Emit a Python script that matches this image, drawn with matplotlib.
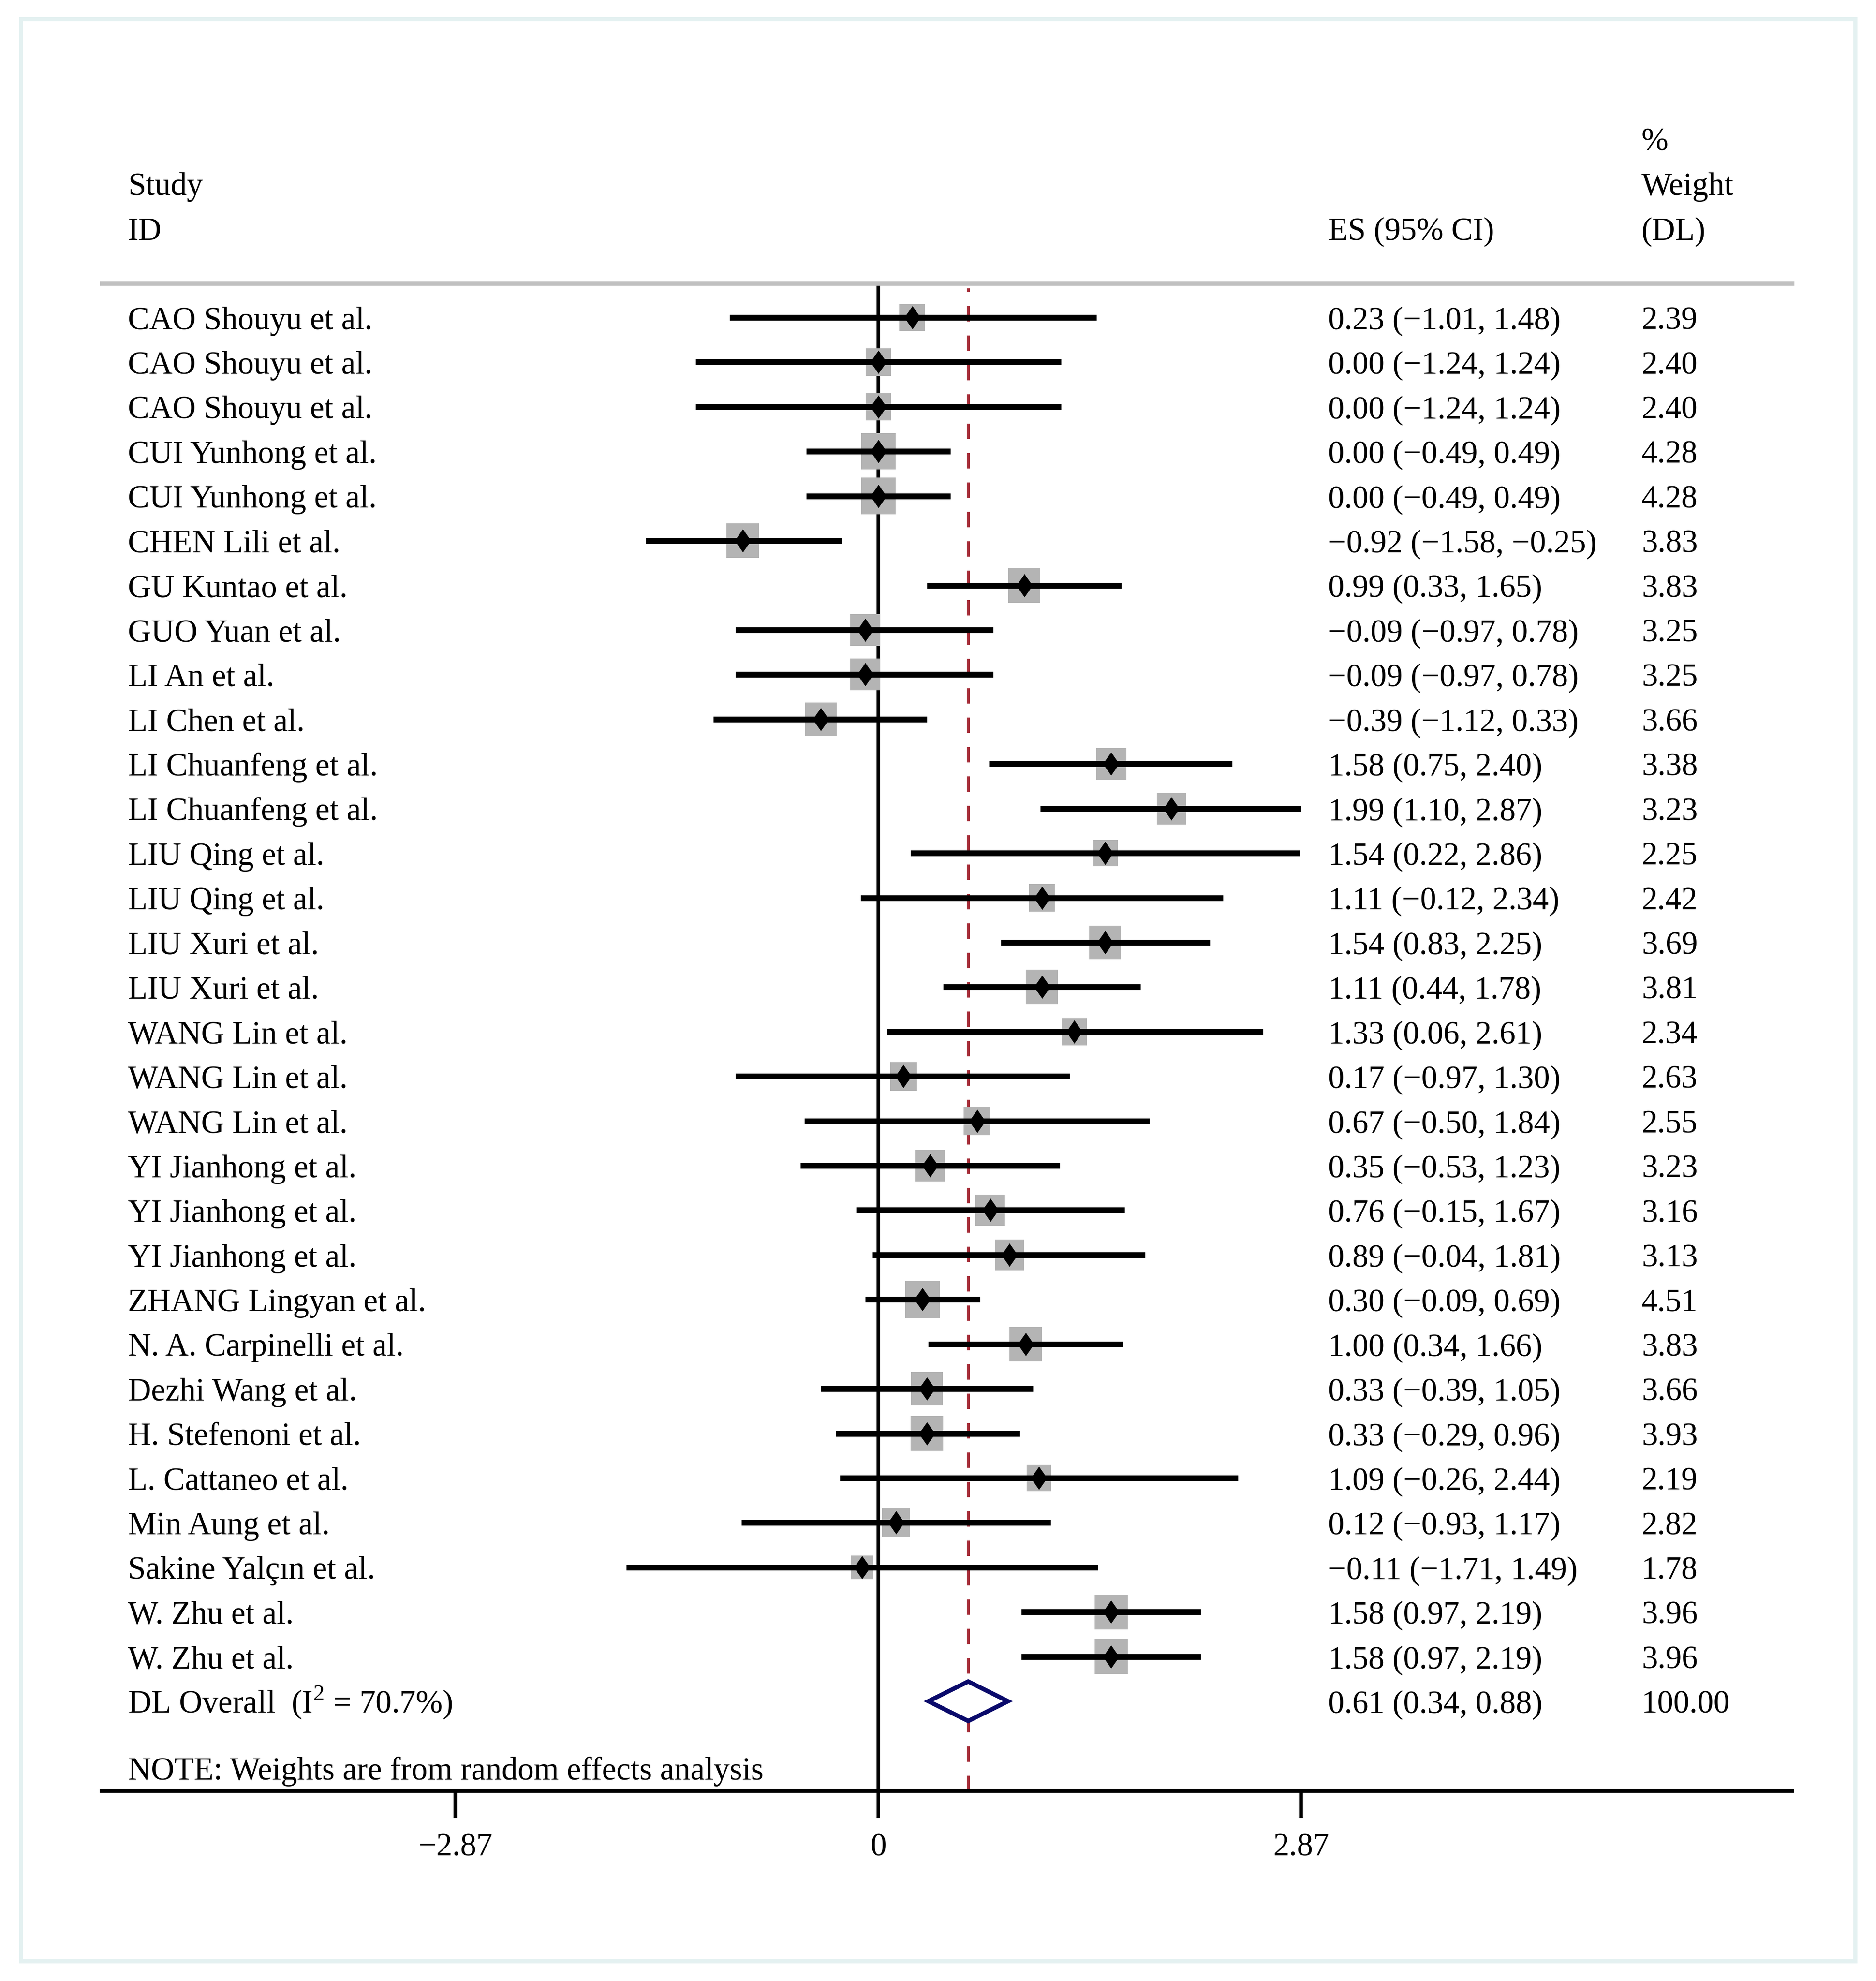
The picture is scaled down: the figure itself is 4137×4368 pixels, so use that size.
import matplotlib
matplotlib.use('Agg')
import matplotlib.pyplot as plt
import numpy as np
from matplotlib.patches import Rectangle

plt.rcParams['font.family'] = ['Liberation Serif', 'DejaVu Serif']
plt.rcParams['font.size'] = 17
plt.rcParams['mathtext.fontset'] = 'custom'
plt.rcParams['mathtext.rm'] = 'Liberation Serif'

studies = ['CAO Shouyu et al.', 'CAO Shouyu et al.', 'CAO Shouyu et al.',
           'CUI Yunhong et al.', 'CUI Yunhong et al.', 'CHEN Lili et al.',
           'GU Kuntao et al.', 'GUO Yuan et al.', 'LI An et al.', 'LI Chen et al.',
           'LI Chuanfeng et al.', 'LI Chuanfeng et al.', 'LIU Qing et al.',
           'LIU Qing et al.', 'LIU Xuri et al.', 'LIU Xuri et al.',
           'WANG Lin et al.', 'WANG Lin et al.', 'WANG Lin et al.',
           'YI Jianhong et al.', 'YI Jianhong et al.', 'YI Jianhong et al.',
           'ZHANG Lingyan et al.', 'N. A. Carpinelli et al.', 'Dezhi Wang et al.',
           'H. Stefenoni et al.', 'L. Cattaneo et al.', 'Min Aung et al.',
           'Sakine Yalçın et al.', 'W. Zhu et al.', 'W. Zhu et al.']
es = np.array([0.23, 0.00, 0.00, 0.00, 0.00, -0.92, 0.99, -0.09, -0.09, -0.39,
               1.58, 1.99, 1.54, 1.11, 1.54, 1.11, 1.33, 0.17, 0.67, 0.35,
               0.76, 0.89, 0.30, 1.00, 0.33, 0.33, 1.09, 0.12, -0.11, 1.58, 1.58])
lo = np.array([-1.01, -1.24, -1.24, -0.49, -0.49, -1.58, 0.33, -0.97, -0.97, -1.12,
               0.75, 1.10, 0.22, -0.12, 0.83, 0.44, 0.06, -0.97, -0.50, -0.53,
               -0.15, -0.04, -0.09, 0.34, -0.39, -0.29, -0.26, -0.93, -1.71, 0.97, 0.97])
hi = np.array([1.48, 1.24, 1.24, 0.49, 0.49, -0.25, 1.65, 0.78, 0.78, 0.33,
               2.40, 2.87, 2.86, 2.34, 2.25, 1.78, 2.61, 1.30, 1.84, 1.23,
               1.67, 1.81, 0.69, 1.66, 1.05, 0.96, 2.44, 1.17, 1.49, 2.19, 2.19])
weight = np.array([2.39, 2.40, 2.40, 4.28, 4.28, 3.83, 3.83, 3.25, 3.25, 3.66,
                   3.38, 3.23, 2.25, 2.42, 3.69, 3.81, 2.34, 2.63, 2.55, 3.23,
                   3.16, 3.13, 4.51, 3.83, 3.66, 3.93, 2.19, 2.82, 1.78, 3.96, 3.96])

pooled_es, pooled_lo, pooled_hi = 0.61, 0.34, 0.88
pooled_weight = 100.00
i2 = 70.7
xtick_vals = [-2.87, 0, 2.87]
xtick_labels = ['\u22122.87', '0', '2.87']


def fmt(v):
    return f'{v:.2f}'.replace('-', '\u2212')


W, H = 4137, 4368
fig = plt.figure(figsize=(W / 300, H / 300), dpi=300)
ax = fig.add_axes([224 / W, 1 - 3949 / H, (3952 - 224) / W, (3949 - 625) / H])

n = len(studies)
rows = np.arange(n)
overall_row = n
ax.set_xlim(-5.272, 6.202)
ax.set_ylim(33.01, -0.762)

# text columns
label_x, es_x, wt_x = -5.094, 3.052, 5.180
off = 0.26
for r, name, e, l, h, w in zip(rows, studies, es, lo, hi, weight):
    ax.text(label_x, r + off, name, va='baseline', ha='left')
    ax.text(es_x, r + off, f'{fmt(e)} ({fmt(l)}, {fmt(h)})', va='baseline', ha='left')
    ax.text(wt_x, r + off, f'{w:.2f}', va='baseline', ha='left')

ax.text(label_x, overall_row + off, 'DL Overall  (I$^{\\mathrm{2}}$ = ' + f'{i2}%)',
        va='baseline', ha='left')
ax.text(es_x, overall_row + off, f'{fmt(pooled_es)} ({fmt(pooled_lo)}, {fmt(pooled_hi)})',
        va='baseline', ha='left')
ax.text(wt_x, overall_row + off, f'{pooled_weight:.2f}', va='baseline', ha='left')
ax.text(label_x, overall_row + 1.5 + off, 'NOTE: Weights are from random effects analysis',
        va='baseline', ha='left')

# headers
ax.text(label_x, -3 + off, 'Study', va='baseline', ha='left')
ax.text(label_x, -2 + off, 'ID', va='baseline', ha='left')
ax.text(es_x, -2 + off, 'ES (95% CI)', va='baseline', ha='left')
ax.text(wt_x, -4 + off, '%', va='baseline', ha='left')
ax.text(wt_x, -3 + off, 'Weight', va='baseline', ha='left')
ax.text(wt_x, -2 + off, '(DL)', va='baseline', ha='left')
for t in ax.texts:
    t.set_clip_on(False)

# reference lines
ax.axvline(0, color='black', lw=1.95, zorder=1)
ax.axvline(pooled_es, ymin=0, ymax=0.997, color='#a62f3a', lw=1.7,
           dashes=(4.8, 4.35), zorder=1.5)

# weight boxes
box = [(-0.47, -0.5), (0.47, -0.5), (0.47, 0.5), (-0.47, 0.5), (-0.47, -0.5)]
ax.scatter(es, rows, s=87 * weight, marker=box, color='#b4b4b4',
           linewidths=0, zorder=2)

# confidence intervals
for r, l, h in zip(rows, lo, hi):
    ax.plot([l, h], [r, r], color='black', lw=3.05, solid_capstyle='butt', zorder=3)

# point estimates
diam = [(0, 1), (0.7, 0), (0, -1), (-0.7, 0), (0, 1)]
ax.plot(es, rows, ls='none', marker=diam, ms=12.3, color='black', mew=0, zorder=4)

# pooled diamond
ax.fill([pooled_lo, pooled_es, pooled_hi, pooled_es],
        [overall_row, overall_row - 0.442, overall_row, overall_row + 0.442],
        facecolor='white', edgecolor='#0a0a6b', lw=2.3, joinstyle='miter', zorder=4)

# axes styling
for side in ['left', 'right']:
    ax.spines[side].set_visible(False)
ax.spines['top'].set_color('#c0c0c0')
ax.spines['top'].set_linewidth(2.2)
ax.spines['bottom'].set_color('black')
ax.spines['bottom'].set_linewidth(2.0)
ax.set_yticks([])
ax.set_xticks(xtick_vals)
ax.set_xticklabels(xtick_labels)
ax.tick_params(axis='x', length=14.2, width=1.9, pad=7.9, labelsize=17, color='black')

# outer frame
fig.add_artist(Rectangle((46 / W, 1 - 4323.5 / H), (4090.5 - 46) / W, (4323.5 - 42) / H,
                         transform=fig.transFigure, fill=False,
                         edgecolor='#e4f1f1', lw=2.16))

fig.savefig('out.png', dpi=300)
